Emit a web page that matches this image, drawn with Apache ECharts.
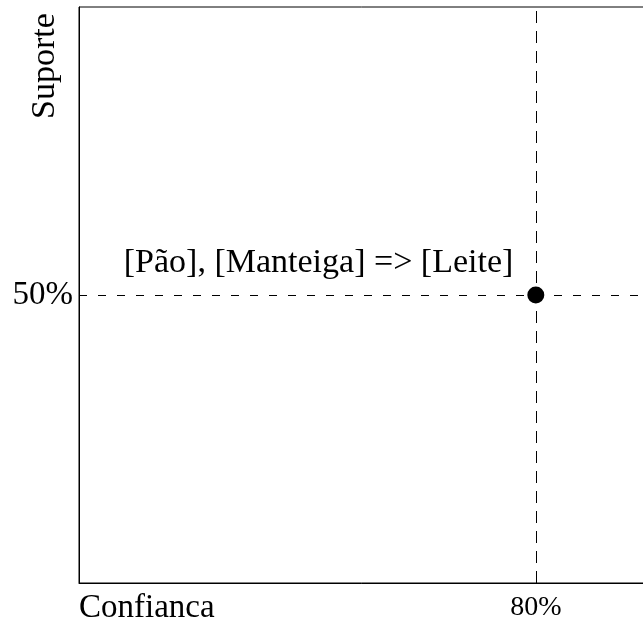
<!DOCTYPE html>
<html>
<head>
<meta charset="utf-8">
<script src="https://cdn.jsdelivr.net/npm/echarts@6/dist/echarts.min.js"></script>
<style>html,body{margin:0;padding:0;background:#fff}#c{width:643px;height:625px}</style>
</head>
<body>
<div id="c"></div>
<script>
const confianca = [80];
const suporte = [50];
const regras = ['[Pão], [Manteiga] => [Leite]'];
const xTickLabel = '80%';
const yTickLabel = '50%';
const xTitle = 'Confianca';
const yTitle = 'Suporte';

const serif = "'Liberation Serif', 'Times New Roman', serif";
const chart = echarts.init(document.getElementById('c'), null, {renderer: 'canvas'});
chart.setOption({
  animation: false,
  backgroundColor: '#fff',
  grid: {left: 79, top: 7, width: 571, height: 576, outerBoundsMode: 'none', containLabel: false,
         show: true, borderColor: '#000', borderWidth: 1, backgroundColor: 'transparent'},
  xAxis: {
    type: 'value', min: 0, max: 100, interval: 10,
    axisLine: {show: true, lineStyle: {color: '#000', width: 1}},
    axisTick: {show: false}, splitLine: {show: false},
    axisLabel: {
      showMinLabel: true, showMaxLabel: false, margin: 11,
      formatter: v => (v === confianca[0] ? xTickLabel : ''),
      fontFamily: serif, fontSize: 28, color: '#000'
    }
  },
  yAxis: {
    type: 'value', min: 0, max: 100, interval: 10,
    axisLine: {show: true, lineStyle: {color: '#000', width: 1}},
    axisTick: {show: false}, splitLine: {show: false},
    axisLabel: {
      margin: 6,
      formatter: v => (v === suporte[0] ? yTickLabel : ''),
      fontFamily: serif, fontSize: 33, color: '#000'
    }
  },
  graphic: [
    {type: 'text', x: 79, y: 608, style: {text: xTitle, font: '33px ' + serif, fill: '#000', align: 'left', verticalAlign: 'middle'}},
    {type: 'text', x: 45, y: 66, rotation: Math.PI / 2, style: {text: yTitle, font: '34px ' + serif, fill: '#000', align: 'center', verticalAlign: 'middle'}}
  ],
  series: [{
    type: 'scatter',
    data: confianca.map((c, i) => ({value: [c, suporte[i]], name: regras[i]})),
    symbol: 'circle', symbolSize: 17,
    itemStyle: {color: '#000', opacity: 1},
    label: {
      show: true, position: 'left', distance: 14, offset: [0, -32],
      formatter: p => p.name,
      fontFamily: serif, fontSize: 34, color: '#000'
    },
    markLine: {
      silent: true, symbol: 'none',
      label: {show: false},
      data: [
        {xAxis: confianca[0], lineStyle: {color: '#000', width: 1, type: [12, 8], opacity: 1}},
        {yAxis: suporte[0], lineStyle: {color: '#000', width: 1, type: [8, 11], opacity: 1}}
      ]
    }
  }]
});
</script>
</body>
</html>
